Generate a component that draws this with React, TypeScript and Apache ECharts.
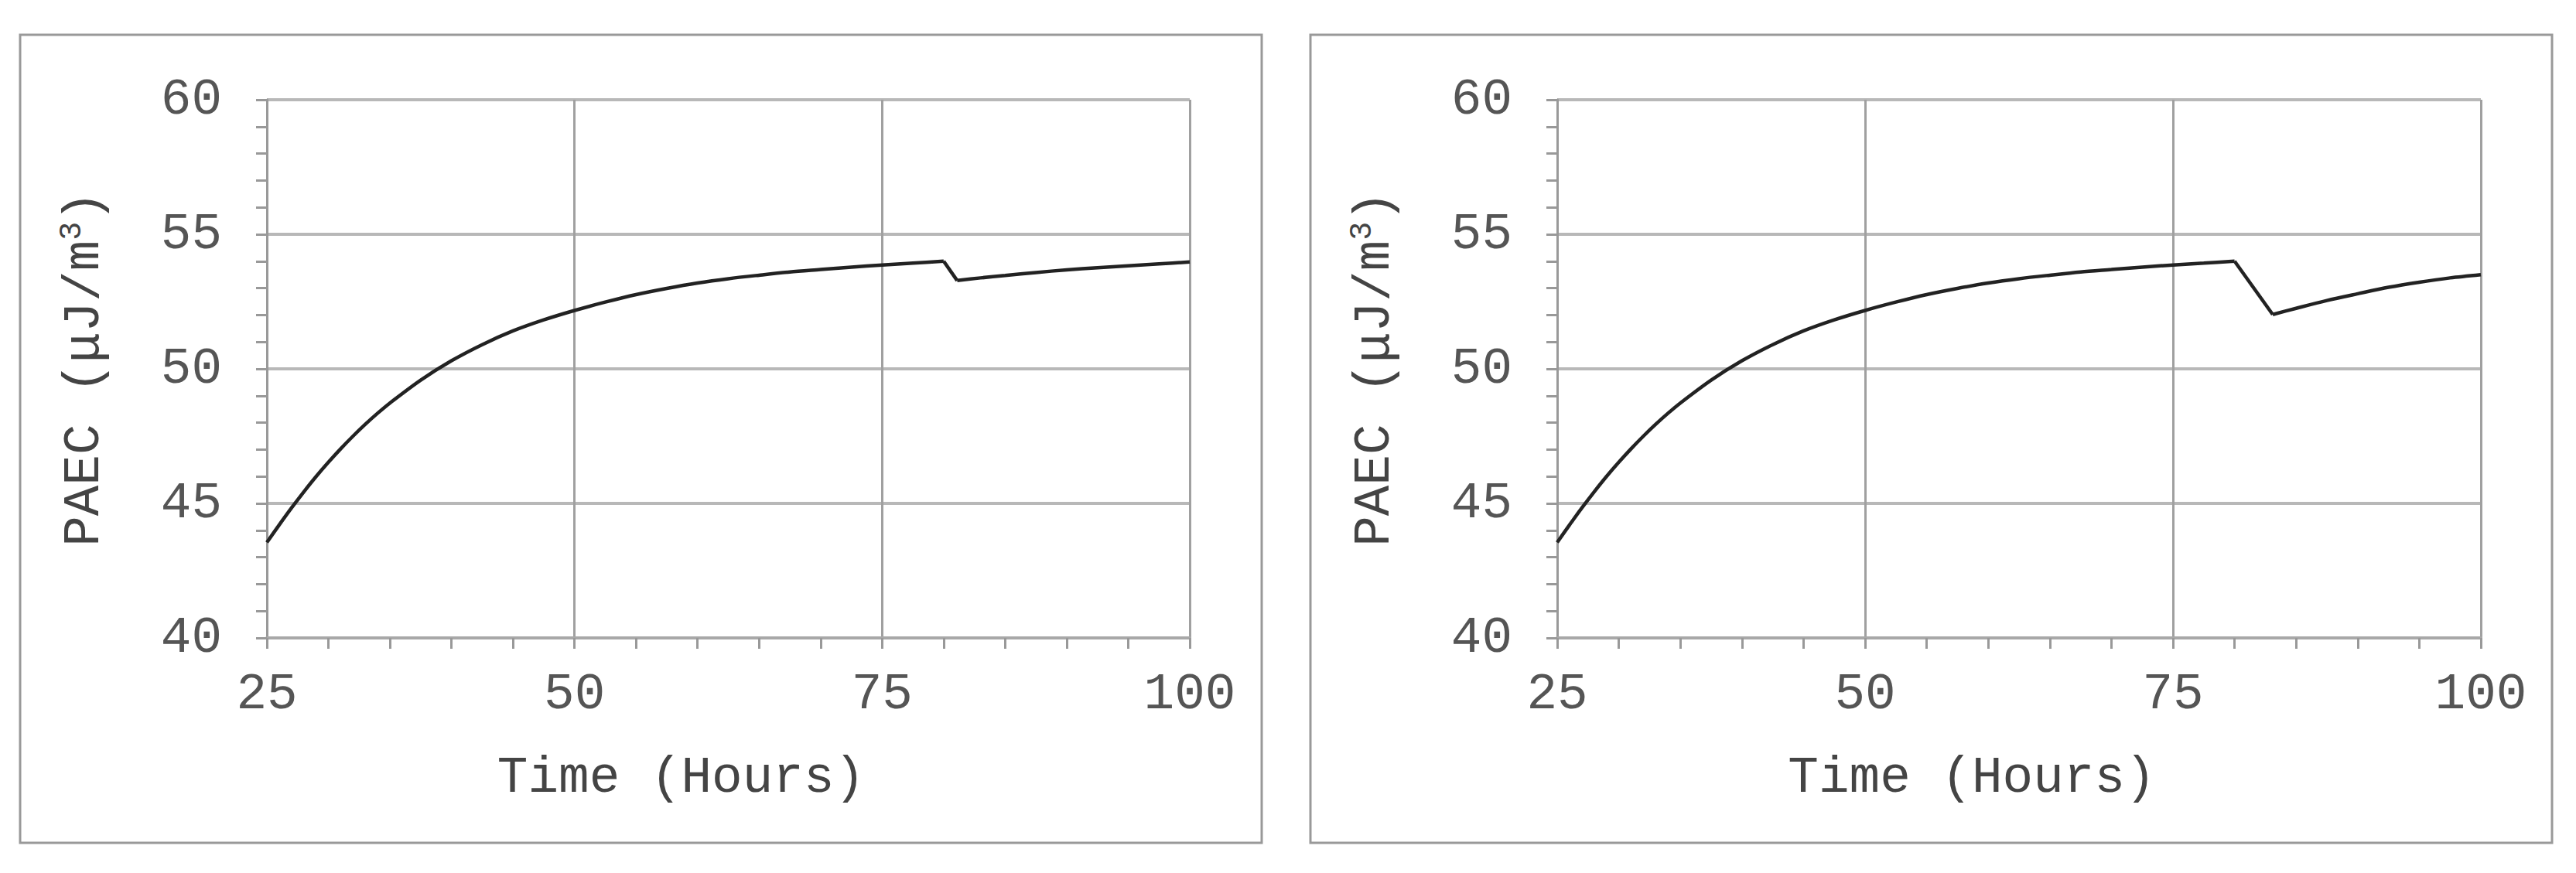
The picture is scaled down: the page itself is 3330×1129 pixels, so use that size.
import React, { useEffect, useRef } from "react";
import * as echarts from "echarts";

// Time (hours) and PAEC values, left panel
const hoursLeft = [25, 26, 27, 28, 29, 30, 31, 32, 33, 34, 35, 37.5, 40, 42.5, 45, 47.5, 50, 52.5, 55, 57.5, 60, 62.5, 65, 67.5, 70, 72.5, 75, 77.5, 80, 81.1, 83, 85, 87.5, 90, 92.5, 95, 97.5, 100];
const paecLeft = [43.55, 44.2, 44.83, 45.43, 46.0, 46.53, 47.03, 47.5, 47.94, 48.35, 48.73, 49.58, 50.3, 50.9, 51.41, 51.82, 52.17, 52.48, 52.76, 52.99, 53.19, 53.35, 53.48, 53.6, 53.69, 53.78, 53.86, 53.93, 54.0, 53.28, 53.38, 53.47, 53.58, 53.68, 53.76, 53.83, 53.9, 53.97];

// right panel
const hoursRight = [25, 26, 27, 28, 29, 30, 31, 32, 33, 34, 35, 37.5, 40, 42.5, 45, 47.5, 50, 52.5, 55, 57.5, 60, 62.5, 65, 67.5, 70, 72.5, 75, 77.5, 80, 83.1, 85, 87.5, 90, 92.5, 95, 97.5, 100];
const paecRight = [43.55, 44.2, 44.83, 45.43, 46.0, 46.53, 47.03, 47.5, 47.94, 48.35, 48.73, 49.58, 50.3, 50.9, 51.41, 51.82, 52.17, 52.48, 52.76, 52.99, 53.19, 53.35, 53.48, 53.6, 53.69, 53.78, 53.86, 53.93, 54.0, 52.02, 52.25, 52.54, 52.79, 53.03, 53.22, 53.38, 53.5];

// index of the peak (x = 80) in both panels, where the drop begins
const peakIndex = 28;

const xTitle = "Time (Hours)";
const yTitle = "PAEC (μJ/m{sup|3})";

const FONT = "'Liberation Mono', 'DejaVu Sans Mono', monospace";

function zip(xs: number[], ys: number[]) {
  return xs.map((x, i) => [x, ys[i]]);
}

function xAxisFor(gridIndex: number) {
  return {
    type: "value",
    gridIndex,
    min: 25,
    max: 100,
    interval: 25,
    name: xTitle,
    nameLocation: "middle",
    nameGap: 148,
    nameTextStyle: {
      fontFamily: FONT,
      fontSize: 66,
      color: "#444",
      padding: [0, 122, 0, 0],
    },
    axisLine: { show: true, lineStyle: { color: "#a8a8a8", width: 4 } },
    axisTick: { show: true, inside: false, length: 14, lineStyle: { color: "#999", width: 3 } },
    minorTick: { show: true, splitNumber: 5, length: 14, lineStyle: { color: "#999", width: 3 } },
    axisLabel: {
      fontFamily: FONT,
      fontSize: 66,
      color: "#555",
      margin: 40,
    },
    splitLine: { show: true, lineStyle: { color: "#a0a0a0", width: 3 } },
  };
}

function yAxisFor(gridIndex: number) {
  return {
    type: "value",
    gridIndex,
    min: 40,
    max: 60,
    interval: 5,
    name: yTitle,
    nameLocation: "middle",
    nameGap: 200,
    nameRotate: 90,
    nameTextStyle: {
      fontFamily: FONT,
      fontSize: 66,
      lineHeight: 72,
      color: "#444",
      rich: {
        sup: { fontFamily: FONT, fontSize: 40, lineHeight: 40, verticalAlign: "top", color: "#444" },
      },
    },
    axisLine: { show: true, lineStyle: { color: "#999", width: 3 } },
    axisTick: { show: true, inside: false, length: 14, lineStyle: { color: "#999", width: 3 } },
    minorTick: { show: true, splitNumber: 5, length: 14, lineStyle: { color: "#999", width: 3 } },
    axisLabel: {
      fontFamily: FONT,
      fontSize: 66,
      color: "#555",
      margin: 58,
      padding: [0, 0, 12, 0],
    },
    splitLine: { show: true, lineStyle: { color: "#b8b8b8", width: 4 } },
  };
}

function panelSeries(idx: number, xs: number[], ys: number[]) {
  const pts = zip(xs, ys);
  const base = {
    type: "line",
    xAxisIndex: idx,
    yAxisIndex: idx,
    showSymbol: false,
    lineStyle: { color: "#222", width: 4.5 },
  };
  return [
    { ...base, data: pts.slice(0, peakIndex + 1), smooth: 0.3 },
    { ...base, data: pts.slice(peakIndex, peakIndex + 2), smooth: false },
    { ...base, data: pts.slice(peakIndex + 1), smooth: 0.3 },
  ];
}

export default function App() {
  const ref = useRef<HTMLDivElement>(null);
  useEffect(() => {
    if (!ref.current) return;
    const chart = echarts.init(ref.current, null, { renderer: "svg" });
    chart.setOption({
      animation: false,
      backgroundColor: "#ffffff",
      grid: [
        { left: 345, top: 129, width: 1193, height: 696 },
        { left: 2013, top: 129, width: 1194, height: 696 },
      ],
      xAxis: [xAxisFor(0), xAxisFor(1)],
      yAxis: [yAxisFor(0), yAxisFor(1)],
      graphic: [
        {
          type: "rect",
          shape: { x: 26, y: 45, width: 1605, height: 1045 },
          style: { fill: "none", stroke: "#999", lineWidth: 3 },
          silent: true,
        },
        {
          type: "rect",
          shape: { x: 1694, y: 45, width: 1605, height: 1045 },
          style: { fill: "none", stroke: "#999", lineWidth: 3 },
          silent: true,
        },
      ],
      series: [
        ...panelSeries(0, hoursLeft, paecLeft),
        ...panelSeries(1, hoursRight, paecRight),
      ],
    });
    return () => chart.dispose();
  }, []);
  return (
    <div
      ref={ref}
      style={{ position: "absolute", left: 0, top: 0, width: 3330, height: 1129, background: "#fff" }}
    />
  );
}
